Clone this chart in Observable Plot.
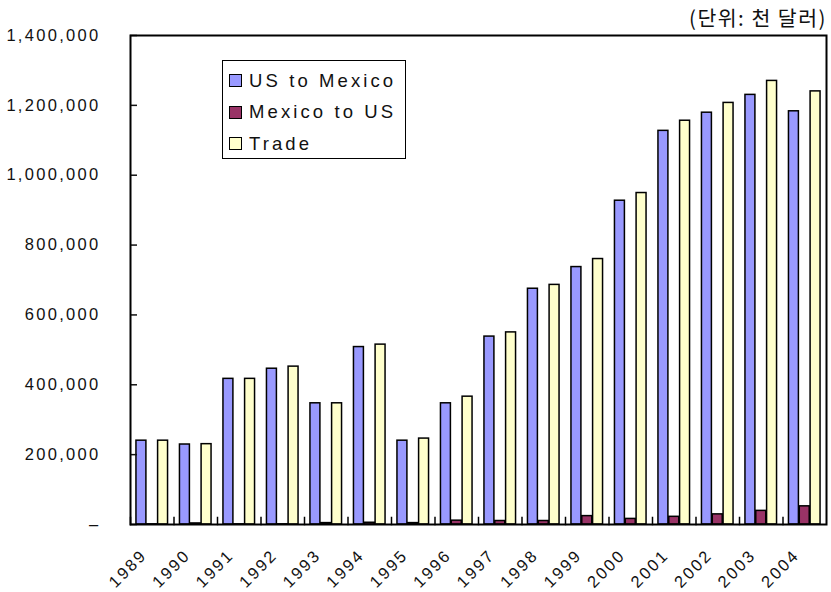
<!DOCTYPE html>
<html>
<head>
<meta charset="utf-8">
<script src="https://cdn.jsdelivr.net/npm/d3@7"></script>
<script src="https://cdn.jsdelivr.net/npm/@observablehq/plot@0.6"></script>
<style>
  html, body { margin: 0; padding: 0; background: white; }
  #wrap { position: relative; width: 831px; height: 592px; }
  #unit {
    position: absolute; right: 4px; top: 5px;
    font-family: "Noto Sans CJK KR", sans-serif; font-size: 20.5px; line-height: 24px;
    letter-spacing: 1.5px; color: #111;
  }
  #legend {
    position: absolute; left: 222px; top: 60px; width: 184px; height: 99px;
    box-sizing: border-box; border: 1.5px solid #000; background: white;
    font-family: "Liberation Sans", Arial, sans-serif; font-size: 18.5px; letter-spacing: 3.1px; color: #111;
  }
  .item { position: absolute; left: 6px; height: 24px; display: flex; align-items: center; }
  .sw { width: 11px; height: 11px; border: 1.5px solid #000; margin-right: 7px; }
</style>
</head>
<body>
<div id="wrap">
  <div id="chart"></div>
  <div id="unit"></div>
  <div id="legend"></div>
</div>
<script>
// Korean–Mexico trade, thousand US dollars
const years = [1989, 1990, 1991, 1992, 1993, 1994, 1995, 1996, 1997, 1998, 1999, 2000, 2001, 2002, 2003, 2004];
const seriesNames = ["US to Mexico", "Mexico to US", "Trade"];
const seriesColors = ["#9999FF", "#993366", "#FFFFCC"];
const usToMexico = [240000, 229000, 417000, 446000, 347000, 508000, 240000, 347000, 538000, 675000, 737000, 927000, 1127000, 1179000, 1230000, 1183000];
const mexicoToUs = [500, 3000, 500, 500, 4000, 5000, 4000, 11000, 10000, 10000, 24000, 16000, 22000, 29000, 39000, 52000];
const trade = [240000, 230000, 417000, 452000, 347000, 515000, 246000, 366000, 550000, 686000, 760000, 949000, 1156000, 1207000, 1270000, 1240000];
const yTicks = [0, 200000, 400000, 600000, 800000, 1000000, 1200000, 1400000];
const unitLabel = "(단위: 천 달러)";

const rows = years.flatMap((year, i) => [
  {year, series: seriesNames[0], value: usToMexico[i]},
  {year, series: seriesNames[1], value: mexicoToUs[i]},
  {year, series: seriesNames[2], value: trade[i]}
]);

const W = 831, H = 592;
const M = {top: 35, right: 5, bottom: 68, left: 130};
const plotH = H - M.top - M.bottom;
const fmtY = d => d === 0 ? "–" : d3.format(",")(d);

const chart = Plot.plot({
  width: W, height: H,
  marginTop: M.top, marginRight: M.right, marginBottom: M.bottom, marginLeft: M.left,
  style: {fontFamily: "Liberation Sans, Arial, sans-serif", fontSize: "16.5px", letterSpacing: "2.3px", color: "#111", background: "white"},
  fx: {domain: years, padding: 0, round: false, axis: null, label: null},
  x: {domain: seriesNames, axis: null, round: false, paddingInner: 0.08, paddingOuter: 0.55},
  y: {domain: [0, 1400000], axis: null},
  color: {domain: seriesNames, range: seriesColors},
  marks: [
    Plot.barY(rows, {fx: "year", x: "series", y: "value", fill: "series", stroke: "#000", strokeWidth: 1.5}),
    // short upward ticks at the category boundaries
    Plot.frame({anchor: "left", insetTop: plotH - 7, stroke: "#000", strokeWidth: 1.5}),
    Plot.axisY(yTicks, {anchor: "left", tickSize: -7, tickPadding: 37, tickFormat: fmtY, strokeWidth: 1.5, label: null}),
    Plot.axisFx({anchor: "bottom", tickSize: 0, tickPadding: 28, tickRotate: -45, dx: -8, tickFormat: d => `${d}`, label: null}),
    Plot.frame({facet: "super", stroke: "#000", strokeWidth: 2})
  ]
});
document.getElementById("chart").append(chart);

document.getElementById("unit").textContent = unitLabel;
const legend = document.getElementById("legend");
seriesNames.forEach((name, i) => {
  const item = document.createElement("div");
  item.className = "item";
  item.style.top = (7.5 + i * 31.5) + "px";
  const sw = document.createElement("div");
  sw.className = "sw";
  sw.style.background = seriesColors[i];
  const label = document.createElement("span");
  label.textContent = name;
  item.append(sw, label);
  legend.append(item);
});
</script>
</body>
</html>
